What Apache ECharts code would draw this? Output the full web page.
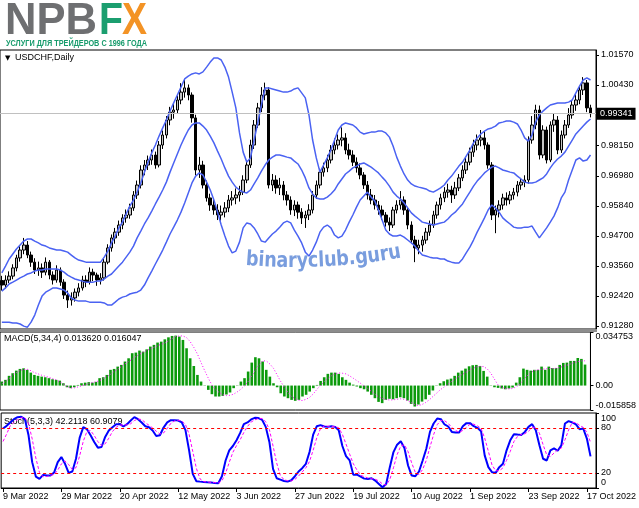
<!DOCTYPE html>
<html>
<head>
<meta charset="utf-8">
<script src="https://cdn.jsdelivr.net/npm/echarts@6/dist/echarts.min.js"></script>
<style>
  html, body { margin: 0; padding: 0; background: #fff; }
  #chart { width: 639px; height: 508px; }
</style>
</head>
<body>
<div id="chart"></div>
<script>
// USDCHF daily: candles + Bollinger(20), MACD(5,34,4), Stoch(5,3,3)
var FONT = "'Liberation Sans', Arial, sans-serif";

var dateLabels = ["9 Mar 2022", "29 Mar 2022", "20 Apr 2022", "12 May 2022", "3 Jun 2022",
  "27 Jun 2022", "19 Jul 2022", "10 Aug 2022", "1 Sep 2022", "23 Sep 2022", "17 Oct 2022"];
var labelStep = 16;
var slotCount = 163;   // 162 bars + chart shift

var lastPrice = 0.99341;
var priceTicks = [0.9128, 0.9242, 0.9356, 0.9470, 0.9584, 0.9698, 0.9815, 1.0043, 1.0157];
var macdTicks = [-0.015858, 0, 0.034753];
var stochTicks = [0, 20, 80, 100];
var stochLevels = [20, 80];

// [open, close, low, high]
var ohlc = [
  [0.9300,0.9283,0.9262,0.9318],[0.9283,0.9302,0.9270,0.9320],[0.9302,0.9317,0.9290,0.9335],[0.9317,0.9348,0.9305,0.9362],[0.9348,0.9386,0.9335,0.9398],
  [0.9386,0.9416,0.9372,0.9430],[0.9416,0.9435,0.9400,0.9462],[0.9435,0.9397,0.9385,0.9450],[0.9397,0.9370,0.9352,0.9410],[0.9370,0.9340,0.9325,0.9385],
  [0.9340,0.9348,0.9318,0.9372],[0.9348,0.9332,0.9310,0.9365],[0.9332,0.9370,0.9320,0.9388],[0.9370,0.9321,0.9305,0.9378],[0.9321,0.9302,0.9285,0.9335],
  [0.9302,0.9340,0.9292,0.9358],[0.9340,0.9294,0.9280,0.9350],[0.9294,0.9245,0.9230,0.9305],[0.9245,0.9226,0.9196,0.9262],[0.9226,0.9234,0.9205,0.9255],
  [0.9234,0.9256,0.9220,0.9270],[0.9256,0.9272,0.9240,0.9290],[0.9272,0.9302,0.9262,0.9318],[0.9302,0.9294,0.9275,0.9320],[0.9294,0.9332,0.9285,0.9350],
  [0.9332,0.9321,0.9298,0.9345],[0.9321,0.9302,0.9280,0.9330],[0.9302,0.9310,0.9285,0.9328],[0.9310,0.9370,0.9300,0.9382],[0.9370,0.9424,0.9362,0.9438],
  [0.9424,0.9462,0.9410,0.9475],[0.9462,0.9484,0.9440,0.9500],[0.9484,0.9511,0.9470,0.9528],[0.9511,0.9538,0.9495,0.9552],[0.9538,0.9549,0.9520,0.9570],
  [0.9549,0.9576,0.9535,0.9592],[0.9576,0.9625,0.9565,0.9640],[0.9625,0.9663,0.9610,0.9680],[0.9663,0.9720,0.9650,0.9738],[0.9720,0.9739,0.9700,0.9758],
  [0.9739,0.9758,0.9720,0.9775],[0.9758,0.9777,0.9740,0.9798],[0.9777,0.9739,0.9725,0.9790],[0.9739,0.9815,0.9730,0.9830],[0.9815,0.9853,0.9800,0.9870],
  [0.9853,0.9910,0.9840,0.9925],[0.9910,0.9940,0.9890,0.9960],[0.9940,0.9948,0.9915,0.9972],[0.9948,0.9986,0.9935,1.0002],[0.9986,1.0016,0.9970,1.0050],
  [1.0016,1.0032,0.9995,1.0062],[1.0032,1.0005,0.9985,1.0045],[1.0005,0.9918,0.9900,1.0015],[0.9918,0.9720,0.9700,0.9930],[0.9720,0.9739,0.9690,0.9770],
  [0.9739,0.9663,0.9650,0.9755],[0.9663,0.9614,0.9600,0.9680],[0.9614,0.9587,0.9565,0.9630],[0.9587,0.9568,0.9550,0.9610],[0.9568,0.9549,0.9530,0.9590],
  [0.9549,0.9560,0.9528,0.9585],[0.9560,0.9576,0.9540,0.9598],[0.9576,0.9606,0.9560,0.9625],[0.9606,0.9614,0.9585,0.9640],[0.9614,0.9625,0.9590,0.9650],
  [0.9625,0.9636,0.9600,0.9660],[0.9636,0.9682,0.9625,0.9700],[0.9682,0.9739,0.9670,0.9755],[0.9739,0.9815,0.9728,0.9835],[0.9815,0.9891,0.9800,0.9910],
  [0.9891,0.9956,0.9880,0.9975],[0.9956,1.0005,0.9940,1.0035],[1.0005,1.0024,0.9985,1.0052],[1.0024,0.9663,0.9650,1.0035],[0.9663,0.9682,0.9640,0.9705],
  [0.9682,0.9652,0.9630,0.9700],[0.9652,0.9663,0.9625,0.9690],[0.9663,0.9625,0.9605,0.9678],[0.9625,0.9606,0.9585,0.9640],[0.9606,0.9568,0.9550,0.9620],
  [0.9568,0.9587,0.9545,0.9605],[0.9587,0.9560,0.9535,0.9600],[0.9560,0.9538,0.9515,0.9575],[0.9538,0.9549,0.9500,0.9565],[0.9549,0.9568,0.9530,0.9590],
  [0.9568,0.9625,0.9555,0.9640],[0.9625,0.9663,0.9610,0.9680],[0.9663,0.9712,0.9650,0.9725],[0.9712,0.9728,0.9695,0.9748],[0.9728,0.9758,0.9712,0.9778],
  [0.9758,0.9796,0.9745,0.9815],[0.9796,0.9815,0.9780,0.9840],[0.9815,0.9834,0.9798,0.9855],[0.9834,0.9842,0.9810,0.9882],[0.9842,0.9796,0.9780,0.9860],
  [0.9796,0.9777,0.9760,0.9820],[0.9777,0.9750,0.9735,0.9795],[0.9750,0.9728,0.9710,0.9768],[0.9728,0.9701,0.9685,0.9745],[0.9701,0.9663,0.9648,0.9712],
  [0.9663,0.9625,0.9608,0.9678],[0.9625,0.9606,0.9590,0.9648],[0.9606,0.9587,0.9570,0.9625],[0.9587,0.9568,0.9550,0.9602],[0.9568,0.9549,0.9530,0.9585],
  [0.9549,0.9522,0.9505,0.9560],[0.9522,0.9511,0.9488,0.9540],[0.9511,0.9568,0.9500,0.9580],[0.9568,0.9587,0.9555,0.9605],[0.9587,0.9606,0.9570,0.9640],
  [0.9606,0.9568,0.9550,0.9620],[0.9568,0.9511,0.9495,0.9580],[0.9511,0.9454,0.9440,0.9525],[0.9454,0.9424,0.9370,0.9470],[0.9424,0.9435,0.9400,0.9455],
  [0.9435,0.9454,0.9410,0.9470],[0.9454,0.9484,0.9440,0.9500],[0.9484,0.9511,0.9470,0.9528],[0.9511,0.9549,0.9500,0.9565],[0.9549,0.9587,0.9535,0.9600],
  [0.9587,0.9614,0.9570,0.9630],[0.9614,0.9636,0.9598,0.9655],[0.9636,0.9644,0.9615,0.9668],[0.9644,0.9625,0.9595,0.9660],[0.9625,0.9652,0.9610,0.9675],
  [0.9652,0.9690,0.9640,0.9705],[0.9690,0.9720,0.9678,0.9738],[0.9720,0.9750,0.9705,0.9770],[0.9750,0.9788,0.9738,0.9805],[0.9788,0.9815,0.9770,0.9835],
  [0.9815,0.9834,0.9795,0.9855],[0.9834,0.9842,0.9810,0.9872],[0.9842,0.9815,0.9798,0.9865],[0.9815,0.9739,0.9725,0.9825],[0.9739,0.9549,0.9530,0.9750],
  [0.9549,0.9568,0.9480,0.9585],[0.9568,0.9587,0.9540,0.9605],[0.9587,0.9614,0.9570,0.9630],[0.9614,0.9606,0.9585,0.9635],[0.9606,0.9625,0.9590,0.9640],
  [0.9625,0.9636,0.9608,0.9652],[0.9636,0.9663,0.9620,0.9678],[0.9663,0.9674,0.9645,0.9690],[0.9674,0.9682,0.9655,0.9700],[0.9682,0.9834,0.9668,0.9848],
  [0.9834,0.9891,0.9820,0.9925],[0.9891,0.9948,0.9875,0.9968],[0.9948,0.9777,0.9760,0.9965],[0.9777,0.9872,0.9765,0.9890],[0.9872,0.9758,0.9745,0.9885],
  [0.9758,0.9891,0.9750,0.9905],[0.9891,0.9910,0.9865,0.9935],[0.9910,0.9796,0.9780,0.9925],[0.9796,0.9853,0.9785,0.9870],[0.9853,0.9891,0.9840,0.9910],
  [0.9891,0.9929,0.9880,0.9955],[0.9929,0.9967,0.9915,0.9985],[0.9967,0.9986,0.9945,1.0008],[0.9986,1.0024,0.9970,1.0040],[1.0024,1.0051,1.0005,1.0073],
  [1.0051,0.9956,0.9940,1.0062],[0.9956,0.99341,0.9920,0.9968]
];

var bbUpper = [
  0.9329,0.9355,0.9382,0.9401,0.9420,0.9435,0.9450,0.9458,0.9458,0.9450,
  0.9443,0.9435,0.9431,0.9424,0.9420,0.9416,0.9416,0.9412,0.9408,0.9397,
  0.9386,0.9378,0.9374,0.9370,0.9370,0.9370,0.9370,0.9370,0.9389,0.9412,
  0.9443,0.9469,0.9500,0.9522,0.9553,0.9583,0.9606,0.9636,0.9671,0.9712,
  0.9750,0.9785,0.9815,0.9849,0.9880,0.9910,0.9944,0.9975,1.0005,1.0035,
  1.0066,1.0077,1.0085,1.0089,1.0085,1.0093,1.0111,1.0130,1.0146,1.0146,
  1.0138,1.0111,1.0073,1.0016,0.9956,0.9861,0.9788,0.9750,0.9766,0.9834,
  0.9899,0.9967,1.0032,1.0032,1.0028,1.0024,1.0020,1.0016,1.0016,1.0020,
  1.0028,1.0032,1.0013,0.9994,0.9929,0.9834,0.9766,0.9712,0.9739,0.9766,
  0.9796,0.9834,0.9872,0.9891,0.9899,0.9895,0.9891,0.9880,0.9864,0.9857,
  0.9861,0.9864,0.9864,0.9868,0.9868,0.9861,0.9845,0.9811,0.9769,0.9735,
  0.9705,0.9682,0.9667,0.9659,0.9655,0.9652,0.9648,0.9640,0.9636,0.9644,
  0.9652,0.9663,0.9682,0.9697,0.9716,0.9735,0.9750,0.9773,0.9796,0.9823,
  0.9842,0.9857,0.9868,0.9876,0.9880,0.9887,0.9899,0.9902,0.9906,0.9906,
  0.9902,0.9895,0.9872,0.9842,0.9830,0.9853,0.9902,0.9929,0.9944,0.9956,
  0.9967,0.9971,0.9975,0.9975,0.9975,0.9978,0.9986,1.0013,1.0039,1.0062,
  1.0070,1.0062
];
var bbMiddle = [
  0.9260,0.9272,0.9287,0.9294,0.9302,0.9310,0.9317,0.9325,0.9329,0.9336,
  0.9340,0.9340,0.9344,0.9344,0.9344,0.9344,0.9340,0.9332,0.9321,0.9313,
  0.9306,0.9302,0.9298,0.9294,0.9294,0.9294,0.9298,0.9298,0.9306,0.9317,
  0.9325,0.9340,0.9355,0.9370,0.9389,0.9408,0.9431,0.9462,0.9488,0.9515,
  0.9538,0.9564,0.9591,0.9617,0.9644,0.9674,0.9712,0.9747,0.9781,0.9815,
  0.9845,0.9872,0.9891,0.9899,0.9899,0.9887,0.9872,0.9849,0.9823,0.9792,
  0.9762,0.9728,0.9697,0.9674,0.9655,0.9644,0.9636,0.9633,0.9644,0.9667,
  0.9690,0.9716,0.9739,0.9758,0.9769,0.9777,0.9777,0.9773,0.9769,0.9766,
  0.9754,0.9743,0.9720,0.9690,0.9652,0.9629,0.9614,0.9610,0.9610,0.9617,
  0.9629,0.9644,0.9667,0.9686,0.9705,0.9716,0.9728,0.9735,0.9743,0.9747,
  0.9739,0.9731,0.9720,0.9709,0.9693,0.9678,0.9659,0.9636,0.9621,0.9610,
  0.9595,0.9576,0.9557,0.9545,0.9534,0.9522,0.9519,0.9515,0.9511,0.9515,
  0.9519,0.9522,0.9534,0.9549,0.9560,0.9576,0.9591,0.9614,0.9636,0.9659,
  0.9678,0.9693,0.9709,0.9720,0.9731,0.9735,0.9728,0.9720,0.9716,0.9712,
  0.9709,0.9697,0.9686,0.9674,0.9671,0.9671,0.9674,0.9682,0.9690,0.9705,
  0.9728,0.9747,0.9762,0.9773,0.9788,0.9811,0.9834,0.9857,0.9872,0.9887,
  0.9902,0.9914
];
var bbLower = [
  0.9142,0.9142,0.9142,0.9139,0.9139,0.9135,0.9127,0.9123,0.9142,0.9169,
  0.9207,0.9241,0.9256,0.9264,0.9272,0.9272,0.9268,0.9264,0.9253,0.9234,
  0.9226,0.9222,0.9222,0.9222,0.9218,0.9218,0.9218,0.9218,0.9215,0.9207,
  0.9207,0.9218,0.9230,0.9237,0.9241,0.9249,0.9253,0.9256,0.9264,0.9283,
  0.9310,0.9336,0.9363,0.9389,0.9416,0.9446,0.9477,0.9503,0.9530,0.9560,
  0.9595,0.9633,0.9671,0.9697,0.9709,0.9701,0.9674,0.9644,0.9606,0.9560,
  0.9511,0.9469,0.9431,0.9405,0.9412,0.9446,0.9500,0.9519,0.9515,0.9500,
  0.9477,0.9450,0.9446,0.9462,0.9477,0.9488,0.9503,0.9519,0.9526,0.9519,
  0.9492,0.9469,0.9443,0.9408,0.9393,0.9416,0.9446,0.9484,0.9503,0.9511,
  0.9500,0.9473,0.9462,0.9469,0.9492,0.9522,0.9549,0.9579,0.9606,0.9621,
  0.9636,0.9617,0.9602,0.9568,0.9530,0.9492,0.9477,0.9469,0.9469,0.9473,
  0.9465,0.9454,0.9443,0.9431,0.9412,0.9397,0.9393,0.9389,0.9386,0.9386,
  0.9382,0.9382,0.9374,0.9370,0.9367,0.9367,0.9382,0.9405,0.9427,0.9454,
  0.9484,0.9511,0.9538,0.9568,0.9587,0.9576,0.9560,0.9538,0.9526,0.9515,
  0.9503,0.9500,0.9500,0.9503,0.9503,0.9507,0.9484,0.9462,0.9481,0.9500,
  0.9522,0.9545,0.9576,0.9614,0.9636,0.9682,0.9720,0.9758,0.9766,0.9754,
  0.9758,0.9777
];

var macdMain = [
  0.0026,0.0037,0.0063,0.0080,0.0097,0.0108,0.0112,0.0102,0.0084,0.0069,
  0.0063,0.0058,0.0054,0.0048,0.0041,0.0037,0.0032,0.0015,-0.0011,-0.0017,
  -0.0011,0.0004,0.0015,0.0019,0.0022,0.0019,0.0024,0.0048,0.0054,0.0069,
  0.0102,0.0108,0.0123,0.0134,0.0156,0.0177,0.0210,0.0214,0.0227,0.0220,
  0.0235,0.0253,0.0264,0.0279,0.0285,0.0300,0.0313,0.0322,0.0324,0.0318,
  0.0296,0.0242,0.0177,0.0127,0.0069,0.0026,0.0002,-0.0028,-0.0056,-0.0071,
  -0.0071,-0.0067,-0.0058,-0.0045,-0.0017,-0.0002,0.0026,0.0048,0.0091,0.0149,
  0.0184,0.0177,0.0156,0.0102,0.0058,0.0015,-0.0011,-0.0050,-0.0071,-0.0082,
  -0.0093,-0.0099,-0.0093,-0.0071,-0.0060,-0.0039,-0.0017,0.0004,0.0030,0.0054,
  0.0076,0.0084,0.0084,0.0076,0.0054,0.0037,0.0019,0.0006,-0.0006,-0.0017,
  -0.0024,-0.0039,-0.0060,-0.0082,-0.0106,-0.0114,-0.0093,-0.0086,-0.0089,-0.0082,
  -0.0076,-0.0082,-0.0097,-0.0119,-0.0136,-0.0123,-0.0104,-0.0089,-0.0060,-0.0032,
  -0.0002,0.0015,0.0028,0.0039,0.0045,0.0063,0.0084,0.0097,0.0110,0.0125,
  0.0132,0.0134,0.0127,0.0095,0.0058,-0.0002,-0.0011,-0.0015,-0.0019,-0.0024,
  -0.0019,-0.0013,0.0019,0.0054,0.0110,0.0102,0.0097,0.0102,0.0102,0.0123,
  0.0102,0.0123,0.0114,0.0114,0.0134,0.0147,0.0149,0.0160,0.0160,0.0179,
  0.0173,0.013620
];
var macdSignal = [
  0.0011,0.0026,0.0045,0.0067,0.0084,0.0097,0.0104,0.0106,0.0097,0.0084,
  0.0076,0.0067,0.0060,0.0054,0.0045,0.0037,0.0024,0.0009,-0.0006,-0.0015,
  -0.0015,-0.0009,-0.0002,0.0004,0.0013,0.0019,0.0024,0.0032,0.0045,0.0058,
  0.0073,0.0091,0.0106,0.0123,0.0140,0.0156,0.0171,0.0188,0.0203,0.0216,
  0.0227,0.0238,0.0248,0.0259,0.0268,0.0276,0.0289,0.0305,0.0318,0.0322,
  0.0322,0.0311,0.0285,0.0248,0.0205,0.0149,0.0097,0.0048,0.0004,-0.0024,
  -0.0045,-0.0060,-0.0065,-0.0063,-0.0056,-0.0041,-0.0024,-0.0002,0.0026,0.0063,
  0.0102,0.0134,0.0160,0.0160,0.0140,0.0112,0.0069,0.0026,-0.0011,-0.0045,
  -0.0071,-0.0086,-0.0095,-0.0097,-0.0089,-0.0076,-0.0054,-0.0024,0.0002,0.0026,
  0.0045,0.0063,0.0076,0.0082,0.0080,0.0076,0.0063,0.0048,0.0032,0.0015,
  -0.0002,-0.0019,-0.0037,-0.0056,-0.0073,-0.0084,-0.0091,-0.0093,-0.0093,-0.0089,
  -0.0086,-0.0089,-0.0097,-0.0110,-0.0123,-0.0130,-0.0123,-0.0110,-0.0093,-0.0071,
  -0.0050,-0.0028,-0.0011,0.0006,0.0024,0.0041,0.0056,0.0071,0.0084,0.0097,
  0.0110,0.0121,0.0125,0.0123,0.0108,0.0080,0.0041,0.0004,-0.0011,-0.0019,
  -0.0022,-0.0019,-0.0009,0.0009,0.0037,0.0063,0.0084,0.0097,0.0102,0.0106,
  0.0108,0.0110,0.0110,0.0112,0.0117,0.0125,0.0132,0.0140,0.0149,0.0156,
  0.0160,0.016047
];

var stochMain = [
  79.3,82.9,87.4,91.8,94.5,95.0,91.8,70.3,34.5,15.2,
  12.1,17.5,16.6,16.6,20.6,34.5,41.2,32.3,20.2,22.0,
  39.0,66.8,81.1,78.4,70.3,61.4,53.8,54.7,68.1,76.6,
  81.1,85.1,85.1,82.0,85.1,90.0,94.5,91.8,87.4,82.4,
  81.1,76.6,69.4,70.3,80.6,87.4,90.5,90.5,90.0,87.4,
  77.1,50.2,18.8,9.0,8.5,8.1,7.6,7.2,6.7,6.3,
  15.7,36.7,50.2,56.0,63.6,73.5,85.1,87.4,91.4,93.6,
  93.2,90.9,81.5,61.4,25.5,13.0,11.2,9.4,8.5,10.3,
  15.7,22.0,26.4,32.3,47.9,71.2,82.4,83.8,82.0,81.5,
  82.4,81.5,77.1,56.0,42.6,36.7,17.5,17.9,15.2,12.5,
  12.1,13.0,9.9,5.4,0.9,5.4,27.8,47.9,57.8,62.3,
  53.3,30.0,16.6,15.7,22.0,36.7,52.4,74.8,86.0,92.7,
  91.8,84.7,82.0,74.8,73.9,73.9,82.4,86.5,86.5,82.4,
  80.2,75.7,43.5,27.8,21.1,20.2,27.8,32.3,50.2,63.6,
  71.7,71.2,70.8,74.8,81.5,85.1,77.1,56.9,39.0,36.7,
  50.2,52.9,49.7,56.9,86.0,89.2,87.4,84.7,78.4,79.3,
  65.9,42.2118
];
var stochSignal = [
  62.0,72.0,83.0,87.4,91.2,93.8,93.8,85.7,65.5,40.0,
  20.6,14.9,15.4,16.9,17.9,23.9,32.1,36.0,31.2,24.8,
  27.1,42.6,62.3,75.4,76.6,70.0,61.8,56.6,58.9,66.5,
  75.3,80.9,83.8,84.1,84.1,85.7,89.9,92.1,91.2,87.2,
  83.6,80.0,75.7,72.1,73.4,79.4,86.2,89.5,90.3,89.3,
  84.8,71.6,48.7,26.0,12.1,8.5,8.1,7.6,7.2,6.7,
  9.6,19.6,34.2,47.6,56.6,64.4,74.1,82.0,88.0,90.8,
  92.7,92.6,88.5,77.9,56.1,33.3,16.6,11.2,9.7,9.4,
  11.5,16.0,21.4,26.9,35.5,50.5,67.2,79.1,82.7,82.4,
  82.0,81.8,80.3,71.5,58.6,45.1,32.3,24.0,16.9,15.2,
  13.3,12.5,11.7,9.4,5.4,3.9,11.4,27.0,44.5,56.0,
  57.8,48.5,33.3,20.8,18.1,24.8,37.0,54.6,71.1,84.5,
  90.2,89.7,86.2,80.5,76.9,74.2,76.7,80.9,85.1,85.1,
  83.0,79.4,66.5,49.0,30.8,23.0,23.0,26.8,36.8,48.7,
  61.8,68.8,71.2,72.3,75.7,80.5,81.2,73.0,57.7,44.2,
  42.0,46.6,50.9,53.2,64.2,77.4,87.5,87.1,83.5,80.8,
  74.5,60.9079
];

// category slots, a date label every 16 bars
var cats = [];
for (var i = 0; i < slotCount; i++) {
  cats.push(i % labelStep === 0 && i / labelStep < dateLabels.length ? dateLabels[i / labelStep] : "");
}
function isLabelSlot(idx) { return cats[idx] !== ""; }

var measureCtx = document.createElement("canvas").getContext("2d");
function textWidth(str, font) { measureCtx.font = font; return measureCtx.measureText(str).width; }

// logo text squeezed to the width it has in the picture
function fitText(str, x, y, targetW, size, color, family) {
  var w = textWidth(str, "bold " + size + "px " + family);
  return {
    type: "text", x: x, y: y, scaleX: targetW / w, z: 10,
    style: { text: str, fill: color, fontSize: size, fontWeight: "bold", fontFamily: family,
      align: "left", verticalAlign: "middle" }
  };
}

// watermark set on a shallow arc, squeezed to a target width
function arcText(str, lowX, baseY, startX, targetW, R, size, color) {
  var family = "DejaVu Sans";
  var font = "bold " + size + "px '" + family + "'";
  var squeeze = targetW / textWidth(str, font);
  var out = [];
  var s = startX - lowX;
  for (var k = 0; k < str.length; k++) {
    var w = textWidth(str[k], font) * squeeze;
    var th = (s + w / 2) / R;
    out.push({
      type: "text", x: lowX + R * Math.sin(th), y: baseY - R + R * Math.cos(th), rotation: th,
      scaleX: squeeze, z: 50,
      style: { text: str[k], fill: color, fontSize: size, fontWeight: "bold", fontFamily: family,
        align: "center", verticalAlign: "bottom" }
    });
    s += w;
  }
  return out;
}

var labelStyle = { color: "#000", fontSize: 9, fontFamily: FONT };

var graphics = [
  fitText("NPB", 5, 22, 92, 44, "#6e6f71", "'Liberation Sans'"),
  fitText("F", 99, 22, 24, 44, "#1b9e6f", "'Liberation Sans'"),
  fitText("X", 122, 22, 25, 44, "#f39325", "'Liberation Sans'"),
  fitText("УСЛУГИ ДЛЯ ТРЕЙДЕРОВ С 1996 ГОДА", 6, 43.5, 141, 9, "#179b6c", "'Liberation Sans'"),
  { type: "rect", shape: { x: 0, y: 329, width: 597, height: 3 }, style: { fill: "#8c8c8c" }, z: 5 },
  { type: "text", x: 5, y: 58, style: { text: "▼", fill: "#000", fontSize: 7, fontFamily: "DejaVu Sans", verticalAlign: "middle" } },
  { type: "text", x: 15, y: 58, style: { text: "USDCHF,Daily", fill: "#000", fontSize: 9, fontFamily: FONT, verticalAlign: "middle" } },
  { type: "text", x: 4, y: 339, style: { text: "MACD(5,34,4) 0.013620 0.016047", fill: "#000", fontSize: 9, fontFamily: FONT, verticalAlign: "middle" } },
  { type: "text", x: 4, y: 422, style: { text: "Stoch(5,3,3) 42.2118 60.9079", fill: "#000", fontSize: 9, fontFamily: FONT, verticalAlign: "middle" } }
].concat(arcText("binaryclub.guru", 295, 272, 245, 158, 600, 21, "rgba(98,140,216,0.85)"));

function hiddenX(gridIndex) {
  return {
    type: "category", gridIndex: gridIndex, data: cats, boundaryGap: true,
    axisLine: { show: false }, axisTick: { show: false }, axisLabel: { show: false }, splitLine: { show: false }
  };
}
function rightY(gridIndex, min, max, ticks, formatter, rich) {
  return {
    type: "value", gridIndex: gridIndex, position: "right", min: min, max: max,
    splitLine: { show: false },
    axisLine: { show: true, lineStyle: { color: "#000", width: 1 } },
    axisTick: { show: true, customValues: ticks, length: 3, lineStyle: { color: "#000" } },
    axisLabel: Object.assign({ customValues: ticks, formatter: formatter, margin: 5, rich: rich || {} }, labelStyle)
  };
}

var chart = echarts.init(document.getElementById("chart"), null, { renderer: "canvas" });
chart.setOption({
  animation: false,
  backgroundColor: "#fff",
  textStyle: { fontFamily: FONT },
  graphic: graphics,
  grid: [
    { left: 0, right: 43, top: 50, height: 279, show: true, borderColor: "#000", borderWidth: 1 },
    { left: 0, right: 43, top: 332, height: 78, show: true, borderColor: "#000", borderWidth: 1 },
    { left: 0, right: 43, top: 413, height: 75, show: true, borderColor: "#000", borderWidth: 1 }
  ],
  xAxis: [
    hiddenX(0),
    hiddenX(1),
    {
      type: "category", gridIndex: 2, data: cats, boundaryGap: true,
      axisLine: { show: true, lineStyle: { color: "#000" } },
      axisTick: { show: true, alignWithLabel: true, length: 4, interval: isLabelSlot, lineStyle: { color: "#000" } },
      axisLabel: Object.assign({ interval: 0, align: "left", margin: 4 }, labelStyle),
      splitLine: { show: false }
    }
  ],
  yAxis: [
    rightY(0, 0.9116, 1.0176, priceTicks, function (v) { return v.toFixed(5); }),
    rightY(1, macdTicks[0], macdTicks[2], macdTicks, function (v) {
      if (v === 0) return "0.00";
      return v > 0 ? "{top|" + v.toFixed(6) + "}" : "{bot|" + v.toFixed(6) + "}";
    }, {
      top: { padding: [10, 0, 0, 0], color: "#000", fontSize: 9, fontFamily: FONT },
      bot: { padding: [0, 0, 8, 0], color: "#000", fontSize: 9, fontFamily: FONT }
    }),
    rightY(2, 0, 100, stochTicks, function (v) {
      if (v === 100) return "{top|100}";
      if (v === 0) return "{bot|0}";
      return String(v);
    }, {
      top: { padding: [12, 0, 0, 0], color: "#000", fontSize: 9, fontFamily: FONT },
      bot: { padding: [0, 0, 10, 0], color: "#000", fontSize: 9, fontFamily: FONT }
    })
  ],
  series: [
    {
      name: "USDCHF", type: "candlestick", xAxisIndex: 0, yAxisIndex: 0, data: ohlc, barWidth: 3,
      itemStyle: { color: "#c4c4c4", color0: "#000", borderColor: "#000", borderColor0: "#000", borderWidth: 1 },
      markLine: {
        silent: true, symbol: ["none", "none"], animation: false, precision: 5,
        lineStyle: { color: "#c0c0c0", type: "solid", width: 1 },
        label: { show: true, position: "end", distance: 1, formatter: lastPrice.toFixed(5),
          color: "#fff", backgroundColor: "#000", padding: [2, 3, 1, 3], fontSize: 9, fontFamily: FONT },
        data: [{ yAxis: lastPrice }]
      }
    },
    { name: "BB upper", type: "line", xAxisIndex: 0, yAxisIndex: 0, data: bbUpper, showSymbol: false,
      lineStyle: { color: "#4a62f2", width: 1.5 } },
    { name: "BB middle", type: "line", xAxisIndex: 0, yAxisIndex: 0, data: bbMiddle, showSymbol: false,
      lineStyle: { color: "#4a62f2", width: 1.5 } },
    { name: "BB lower", type: "line", xAxisIndex: 0, yAxisIndex: 0, data: bbLower, showSymbol: false,
      lineStyle: { color: "#4a62f2", width: 1.5 } },
    { name: "MACD", type: "bar", xAxisIndex: 1, yAxisIndex: 1, data: macdMain, barWidth: 2.6,
      itemStyle: { color: "#0b9a0b" } },
    { name: "Signal", type: "line", xAxisIndex: 1, yAxisIndex: 1, data: macdSignal, showSymbol: false,
      lineStyle: { color: "#ff00ff", width: 1, type: [1, 2] } },
    { name: "Stoch", type: "line", xAxisIndex: 2, yAxisIndex: 2, data: stochMain, showSymbol: false,
      lineStyle: { color: "#0000ff", width: 2 },
      markLine: {
        silent: true, symbol: ["none", "none"], animation: false, label: { show: false },
        lineStyle: { color: "#ff0000", type: [3, 3], width: 1 },
        data: stochLevels.map(function (v) { return { yAxis: v }; })
      } },
    { name: "Stoch signal", type: "line", xAxisIndex: 2, yAxisIndex: 2, data: stochSignal, showSymbol: false,
      lineStyle: { color: "#ff00ff", width: 1, type: [3, 2] } }
  ]
});
</script>
</body>
</html>
